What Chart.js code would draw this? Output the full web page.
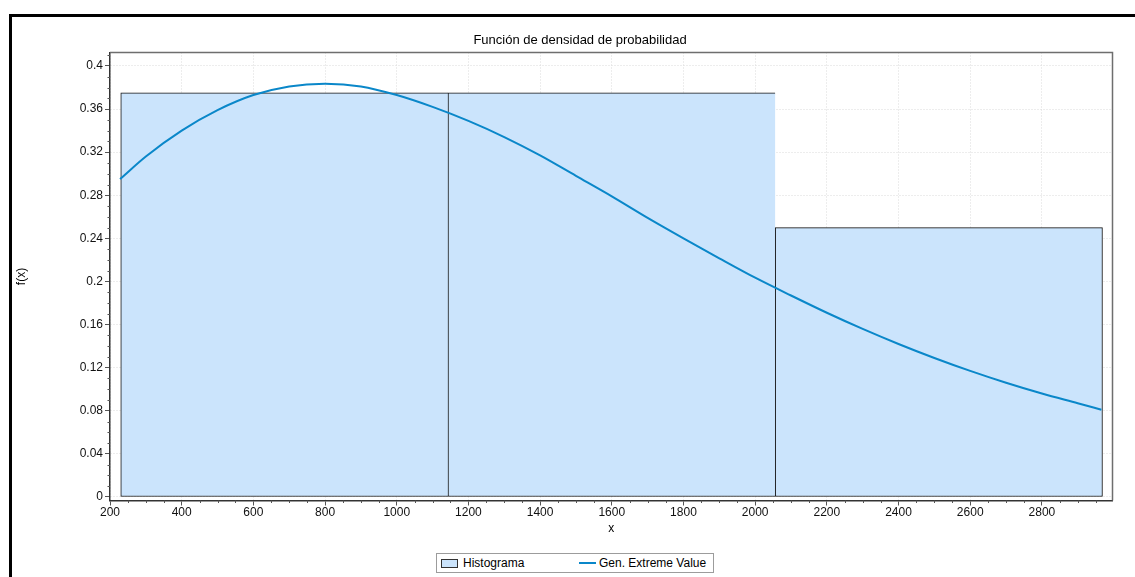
<!DOCTYPE html>
<html>
<head>
<meta charset="utf-8">
<script src="https://cdn.jsdelivr.net/npm/chart.js@4/dist/chart.umd.min.js"></script>
<style>
  html, body { margin: 0; padding: 0; background: #fff; overflow: hidden; }
  body { width: 1135px; height: 577px; position: relative; font-family: "Liberation Sans", Arial, sans-serif; }
  #frame { position: absolute; left: 9px; top: 14px; width: 2000px; height: 2000px;
           border-left: 3px solid #000; border-top: 3px solid #000; }
  #wrap { position: absolute; left: 0; top: 0; width: 1135px; height: 577px; }
  #legend { position: absolute; left: 436px; top: 553px; height: 18px; border: 1px solid #9c9c9c;
            display: flex; align-items: center; padding: 0 7px 0 4px; font-size: 12px; color: #000;
            font-family: "Liberation Sans", Arial, sans-serif; white-space: nowrap; background: #fff; }
  #legend .item { display: flex; align-items: center; }
  #legend .item:first-child { width: 138px; }
</style>
</head>
<body>
<div id="frame"></div>
<div id="wrap"><canvas id="c" width="1135" height="577"></canvas></div>
<div id="legend"></div>
<script>
// ---- data ----
const chartTitle = 'Función de densidad de probabilidad';
const xTitle = 'x';
const yTitle = 'f(x)';
const seriesNames = ['Histograma', 'Gen. Extreme Value'];

// histogram bins (edges) and relative frequencies
const binEdges = [230, 1143, 2056, 2969];
const binHeights = [0.375, 0.375, 0.25];

// fitted density curve
const curveX = [228, 300, 400, 500, 600, 700, 800, 900, 1000, 1100, 1200, 1300, 1400, 1500, 1600, 1700, 1800, 1900, 2000, 2100, 2200, 2300, 2400, 2500, 2600, 2700, 2800, 2900, 2966];
const curveY = [0.295, 0.316, 0.340, 0.359, 0.373, 0.381, 0.3835, 0.381, 0.373, 0.362, 0.349, 0.334, 0.317, 0.298, 0.279, 0.259, 0.240, 0.2215, 0.2035, 0.187, 0.171, 0.156, 0.142, 0.129, 0.117, 0.106, 0.096, 0.087, 0.081];

// axis ticks
const xTicks = [200, 400, 600, 800, 1000, 1200, 1400, 1600, 1800, 2000, 2200, 2400, 2600, 2800];
const yTicks = [0, 0.04, 0.08, 0.12, 0.16, 0.2, 0.24, 0.28, 0.32, 0.36, 0.4];
const xRange = [200, 2997];
const yRange = [-0.00325, 0.4125];

// ---- build ----
const FONT = '"Liberation Sans", Arial, sans-serif';
const barFill = '#cbe4fc';
const lineColor = '#0a87c9';

const binCenters = binHeights.map((h, i) => (binEdges[i] + binEdges[i + 1]) / 2);
const barData = binHeights.map((h, i) => ({ x: binCenters[i], y: h }));
const curveData = curveX.map((x, i) => ({ x: x, y: curveY[i] }));

const frameAndMinorTicks = {
  id: 'frameAndMinorTicks',
  afterDraw(chart) {
    const { ctx, chartArea: a } = chart;
    const xs = chart.scales.x, ys = chart.scales.y;
    ctx.save();
    ctx.strokeStyle = '#6e6e6e';
    ctx.lineWidth = 1.5;
    ctx.beginPath();
    ctx.moveTo(a.left, a.top);
    ctx.lineTo(a.right, a.top);
    ctx.lineTo(a.right, a.bottom);
    ctx.stroke();
    ctx.strokeStyle = '#555';
    ctx.lineWidth = 1;
    const xStep = (xTicks[1] - xTicks[0]) / 4;
    for (let v = xTicks[0]; v <= xRange[1]; v += xStep) {
      if (xTicks.includes(v)) continue;
      const px = Math.round(xs.getPixelForValue(v)) + 0.5;
      ctx.beginPath(); ctx.moveTo(px, a.bottom); ctx.lineTo(px, a.bottom + 2.5); ctx.stroke();
    }
    const yStep = (yTicks[1] - yTicks[0]) / 4;
    for (let k = 0; k * yStep <= yRange[1]; k++) {
      if (k % 4 === 0) continue;
      const py = Math.round(ys.getPixelForValue(k * yStep)) + 0.5;
      ctx.beginPath(); ctx.moveTo(a.left - 2.5, py); ctx.lineTo(a.left, py); ctx.stroke();
    }
    ctx.restore();
  }
};

const htmlLegend = {
  id: 'htmlLegend',
  afterUpdate(chart) {
    const box = document.getElementById('legend');
    box.innerHTML = '';
    chart.data.datasets.forEach((ds) => {
      const item = document.createElement('div');
      item.className = 'item';
      const icon = document.createElement('span');
      const txt = document.createElement('span');
      txt.textContent = ds.label;
      if (ds.type === 'line') {
        icon.style.cssText = 'display:inline-block;width:17px;height:2px;background:' + ds.borderColor + ';';
        txt.style.marginLeft = '3px';
      } else {
        icon.style.cssText = 'display:inline-block;box-sizing:border-box;width:17px;height:9px;background:' + ds.backgroundColor + ';border:1px solid #333;';
        txt.style.marginLeft = '5px';
      }
      item.appendChild(icon);
      item.appendChild(txt);
      box.appendChild(item);
    });
  }
};

new Chart(document.getElementById('c'), {
  type: 'bar',
  data: {
    datasets: [
      {
        type: 'bar',
        label: seriesNames[0],
        data: barData,
        xAxisID: 'xb',
        yAxisID: 'y',
        backgroundColor: barFill,
        borderColor: '#111',
        borderWidth: (ctx) => ({ top: 1, bottom: 1, left: 1, right: ctx.dataIndex === binHeights.length - 1 ? 1 : 0 }),
        borderSkipped: false,
        barPercentage: 1,
        categoryPercentage: 1,
        grouped: false,
        order: 2
      },
      {
        type: 'line',
        label: seriesNames[1],
        data: curveData,
        xAxisID: 'x',
        yAxisID: 'y',
        borderColor: lineColor,
        backgroundColor: lineColor,
        borderWidth: 2,
        pointRadius: 0,
        cubicInterpolationMode: 'monotone',
        fill: false,
        order: 1
      }
    ]
  },
  options: {
    responsive: false,
    animation: false,
    events: [],
    layout: { padding: { left: 47.5, right: 22.5, top: 0, bottom: 41.5 } },
    plugins: {
      legend: { display: false },
      tooltip: { enabled: false },
      title: {
        display: true,
        text: chartTitle,
        color: '#000',
        font: { family: FONT, size: 13, weight: 'normal' },
        padding: { top: 32.2, bottom: 4.7 }
      }
    },
    scales: {
      x: {
        type: 'linear',
        position: 'bottom',
        min: xRange[0],
        max: xRange[1],
        offset: false,
        afterBuildTicks: (s) => { s.ticks = xTicks.map(v => ({ value: v })); },
        afterFit: (s) => { s.height = 35; },
        ticks: {
          callback: (v) => String(v),
          color: '#111',
          font: { family: FONT, size: 12 },
          padding: 0,
          maxRotation: 0,
          autoSkip: false
        },
        grid: {
          offset: false,
          color: '#dadada',
          lineWidth: 1,
          tickLength: 5,
          tickColor: '#555',
          tickWidth: 1,
          tickBorderDash: []
        },
        border: { display: true, color: '#333', width: 1.5, dash: [1, 2] },
        title: {
          display: true,
          text: xTitle,
          color: '#000',
          font: { family: FONT, size: 12 },
          padding: { top: 0, bottom: 0 }
        }
      },
      xb: {
        type: 'linear',
        position: 'bottom',
        display: false,
        min: xRange[0],
        max: xRange[1],
        offset: false,
        grid: { offset: false },
        afterBuildTicks: (s) => { s.ticks = binCenters.map(v => ({ value: v })); }
      },
      y: {
        type: 'linear',
        position: 'left',
        min: yRange[0],
        max: yRange[1],
        afterBuildTicks: (s) => { s.ticks = yTicks.map(v => ({ value: v })); },
        afterFit: (s) => { s.width = 62.5; },
        ticks: {
          callback: (v) => String(parseFloat(Number(v).toFixed(4))),
          color: '#111',
          font: { family: FONT, size: 12 },
          padding: 2,
          autoSkip: false
        },
        grid: {
          color: '#dadada',
          lineWidth: 1,
          tickLength: 5,
          tickColor: '#555',
          tickWidth: 1,
          tickBorderDash: []
        },
        border: { display: true, color: '#333', width: 1.5, dash: [1, 2] },
        title: {
          display: true,
          text: yTitle,
          color: '#000',
          font: { family: FONT, size: 12 },
          padding: { top: -33.2, bottom: 0 }
        }
      }
    }
  },
  plugins: [frameAndMinorTicks, htmlLegend]
});
</script>
</body>
</html>
